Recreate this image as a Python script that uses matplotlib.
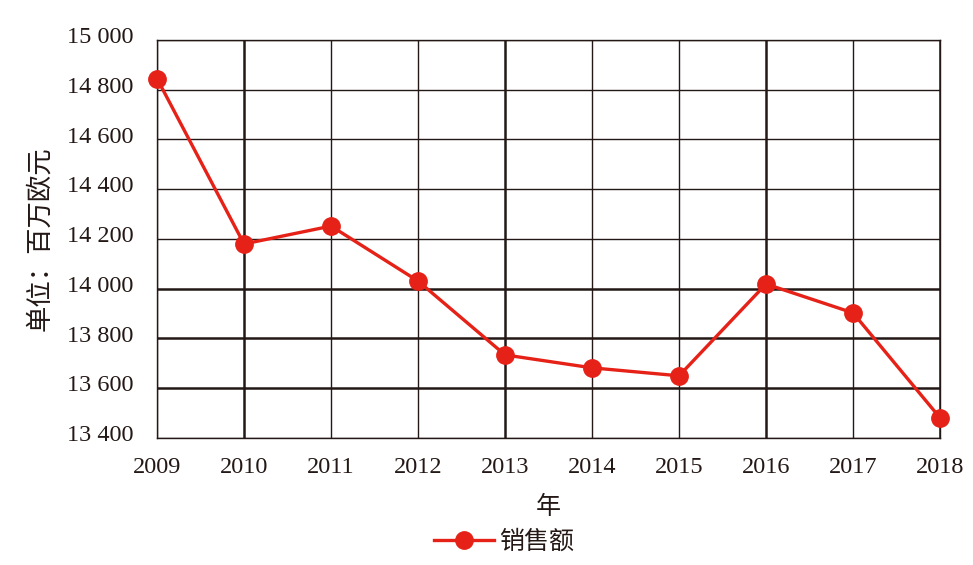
import matplotlib
matplotlib.use("Agg")
import matplotlib.pyplot as plt
from matplotlib.ticker import FuncFormatter
from matplotlib.transforms import ScaledTranslation

# data
years = [2009, 2010, 2011, 2012, 2013, 2014, 2015, 2016, 2017, 2018]
sales = [14845, 14180, 14252, 14031, 13734, 13682, 13650, 14019, 13903, 13481]

y_ticks = [13400, 13600, 13800, 14000, 14200, 14400, 14600, 14800, 15000]

serif = ['Liberation Serif', 'DejaVu Serif']
cjk = ['Noto Sans CJK SC', 'DejaVu Sans']
ink = '#231815'

fig = plt.figure(figsize=(9.73, 5.65), dpi=100)
ax = fig.add_axes([0.1614, 0.2248, 0.8047, 0.7044])

# grid drawn by hand so a few lines can be heavier like the original
heavy_y = [13600, 13800, 14000]
heavy_x = [2010, 2013, 2016, 2018]
for v in y_ticks:
    ax.axhline(v, color=ink, lw=1.8 if v in heavy_y else 1.0, zorder=1)
for yr in years:
    ax.axvline(yr, color=ink, lw=1.8 if yr in heavy_x else 1.0, zorder=1)

ax.plot(years, sales, color='#e62117', lw=2.4, marker='o', markersize=12.5,
        label='销售额', zorder=3, clip_on=False)

ax.set_xlim(2009, 2018)
ax.set_ylim(13400, 15000)
ax.set_xticks(years)
ax.set_yticks(y_ticks)
ax.yaxis.set_major_formatter(FuncFormatter(lambda v, p: f"{int(v):,}".replace(",", " ")))
ax.tick_params(length=0, colors=ink)
ax.tick_params(axis='y', pad=17)
ax.tick_params(axis='x', pad=14)
for lab in ax.get_xticklabels() + ax.get_yticklabels():
    lab.set_fontfamily(serif)
    lab.set_fontsize(17.5)
# the y labels sit a little above their gridlines in the original
lift = ScaledTranslation(0, 3.5 / 72, fig.dpi_scale_trans)
for lab in ax.get_yticklabels():
    lab.set_transform(lab.get_transform() + lift)

for s in ax.spines.values():
    s.set_color(ink)
    s.set_linewidth(1.0)

ax.set_xlabel('年', family=cjk, fontsize=18, color=ink, labelpad=11)
ax.set_ylabel('单位：百万欧元', family=cjk, fontsize=19, color=ink, labelpad=10)

leg = fig.legend(loc='center', bbox_to_anchor=(0.518, 0.041), frameon=False,
                 prop={'family': cjk, 'size': 18}, handlelength=2.4, handletextpad=0.2)
for t in leg.get_texts():
    t.set_color(ink)

fig.savefig('out.png', dpi=100)
